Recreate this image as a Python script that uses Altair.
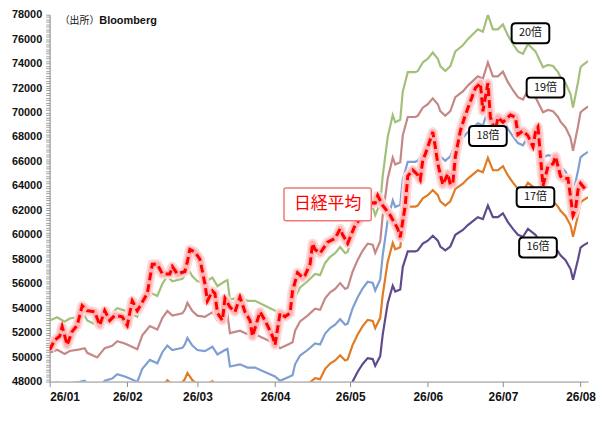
import altair as alt
import pandas as pd

# EPS (value / 20); the other bands are EPS x multiple
eps_dates = [
    "01-01", "01-04", "01-07", "01-09", "01-13", "01-15", "01-16", "01-20", "01-23", "01-26",
    "01-28", "01-31", "02-02", "02-05", "02-07", "02-10", "02-13", "02-15", "02-17", "02-19",
    "02-23", "02-24", "02-25", "02-27", "03-01", "03-04", "03-07", "03-09", "03-12", "03-13",
    "03-14", "03-18", "03-21", "03-24", "03-27", "03-30", "04-01", "04-03", "04-06", "04-08",
    "04-09", "04-11", "04-14", "04-17", "04-19", "04-21", "04-23", "04-25", "04-27", "04-29",
    "04-30", "05-02", "05-04", "05-06", "05-08", "05-10", "05-11", "05-13", "05-14", "05-16",
    "05-18", "05-19", "05-21", "05-22", "05-24", "05-27", "05-28", "05-30", "06-01", "06-03",
    "06-05", "06-06", "06-08", "06-10", "06-12", "06-15", "06-17", "06-20", "06-21", "06-23",
    "06-25", "06-27", "06-29", "07-01", "07-03", "07-05", "07-07", "07-09", "07-11", "07-13",
    "07-14", "07-17", "07-19", "07-21", "07-23", "07-24", "07-26", "07-28", "07-29", "07-31",
    "08-01", "08-02", "08-04",
]
eps_values = [
    2650, 2663, 2645, 2658, 2665, 2670, 2650, 2630, 2670, 2680,
    2700, 2690, 2680, 2665, 2725, 2765, 2750, 2800, 2830, 2810,
    2820, 2835, 2865, 2830, 2810, 2805, 2825, 2790, 2810, 2815,
    2735, 2745, 2730, 2730, 2715, 2700, 2690, 2670, 2685, 2695,
    2745, 2785, 2810, 2840, 2835, 2885, 2910, 2925, 2950, 2925,
    2930, 3000, 3050, 3090, 3120, 3115, 3080, 3130, 3240, 3400,
    3490, 3460, 3470, 3585, 3665, 3665, 3670, 3705, 3720, 3745,
    3720, 3690, 3670, 3690, 3750, 3775, 3800, 3830, 3840, 3830,
    3900, 3840, 3840, 3860, 3815, 3780, 3750, 3740, 3780, 3760,
    3750, 3685, 3695, 3690, 3665, 3645, 3620, 3575, 3520, 3625,
    3685, 3695, 3710,
]

nikkei_dates = [
    "01-01", "01-03", "01-05", "01-06", "01-08", "01-10", "01-12", "01-14", "01-16", "01-19",
    "01-21", "01-23", "01-25", "01-27", "01-30", "02-01", "02-03", "02-05", "02-09", "02-11",
    "02-13", "02-15", "02-18", "02-19", "02-21", "02-24", "02-25", "02-26", "02-28", "03-02",
    "03-04", "03-05", "03-07", "03-08", "03-09", "03-11", "03-12", "03-14", "03-16", "03-18",
    "03-20", "03-22", "03-23", "03-26", "03-28", "03-31", "04-01", "04-03", "04-05", "04-07",
    "04-08", "04-10", "04-12", "04-13", "04-15", "04-16", "04-17", "04-19", "04-22", "04-25",
    "04-27", "04-28", "04-30", "05-03", "05-05", "05-08", "05-11", "05-12", "05-14", "05-17",
    "05-20", "05-21", "05-23", "05-24", "05-26", "05-28", "05-29", "05-30", "05-31", "06-03",
    "06-04", "06-05", "06-07", "06-09", "06-10", "06-11", "06-12", "06-14", "06-16", "06-18",
    "06-20", "06-22", "06-23", "06-25", "06-26", "06-28", "06-29", "07-01", "07-03", "07-04",
    "07-06", "07-07", "07-09", "07-11", "07-13", "07-14", "07-15", "07-17", "07-19", "07-21",
    "07-22", "07-24", "07-25", "07-27", "07-29", "07-30", "07-31", "08-01", "08-03",
]
nikkei_values = [
    50600, 51400, 51700, 52500, 51000, 52100, 52600, 54200, 53800, 53700,
    52600, 53800, 53000, 53400, 53300, 52600, 54600, 53800, 55200, 57600,
    57600, 56800, 56800, 57400, 56800, 57000, 57800, 58800, 58600, 58000,
    56000, 54600, 55400, 55200, 53600, 53000, 54800, 54100, 53700, 54900,
    53700, 53000, 51700, 53700, 53000, 51700, 51000, 53600, 53300, 53600,
    55400, 56900, 56500, 56700, 57600, 59300, 58800, 58500, 59400, 59700,
    60500, 60000, 59300, 60800, 61300, 62600, 62600, 63200, 62400, 61600,
    60500, 59800, 62400, 64800, 65300, 64900, 64500, 66100, 66600, 68400,
    67200, 65800, 64100, 65000, 64100, 64200, 66400, 68500, 69800, 70900,
    72000, 72400, 70100, 72400, 69600, 68500, 69600, 69200, 69600, 69800,
    69600, 68200, 68500, 68100, 67200, 68400, 68800, 64000, 65600, 65800,
    66400, 64800, 64600, 64600, 61600, 62100, 63700, 64200, 63700,
]

multiples = [20, 19, 18, 17, 16]
band_labels = ["20倍", "19倍", "18倍", "17倍", "16倍"]
band_colors = ["#A2C07A", "#C48886", "#7F9ED4", "#E07B24", "#5F4A8B"]

y_ticks = list(range(48000, 78001, 200))

# where the boxed labels sit (date, level)
label_dates = ["07-12", "07-18", "06-25", "07-14", "07-15"]
label_levels = [76480, 72040, 68080, 63080, 58960]
nikkei_label = "日経平均"
nikkei_label_date = "04-22"
nikkei_label_level = 62480
source_date = "01-05"
source_level = 77500

FONT = "Noto Sans CJK JP"
AXIS_FONT = "Liberation Sans"

# rounded boxes drawn as custom symbols (unit square -1..1)
BOX_PATH = ("M -0.79 -0.526 L 0.79 -0.526 Q 1 -0.526 1 -0.316 L 1 0.316 "
            "Q 1 0.526 0.79 0.526 L -0.79 0.526 Q -1 0.526 -1 0.316 "
            "L -1 -0.316 Q -1 -0.526 -0.79 -0.526 Z")
WIDE_BOX_PATH = ("M -0.95 -0.375 L 0.95 -0.375 Q 1 -0.375 1 -0.33 L 1 0.33 "
                 "Q 1 0.375 0.95 0.375 L -0.95 0.375 Q -1 0.375 -1 0.33 "
                 "L -1 -0.33 Q -1 -0.375 -0.95 -0.375 Z")


def to_dates(days):
    return pd.to_datetime(["2026-" + d for d in days])


def build_chart():
    eps = pd.DataFrame({"date": to_dates(eps_dates), "eps": eps_values})
    bands = pd.concat(
        [eps.assign(band=lab, value=eps["eps"] * m) for m, lab in zip(multiples, band_labels)],
        ignore_index=True,
    )
    nikkei = pd.DataFrame({"date": to_dates(nikkei_dates), "value": nikkei_values})
    labels = pd.DataFrame({"date": to_dates(label_dates), "value": label_levels, "text": band_labels})
    nk_label = pd.DataFrame({"date": to_dates([nikkei_label_date]), "value": [nikkei_label_level],
                             "text": [nikkei_label]})
    source = pd.DataFrame({"date": to_dates([source_date]), "value": [source_level]})

    x_enc = alt.X(
        "date:T",
        scale=alt.Scale(domain=[alt.DateTime(year=2026, month=1, date=1),
                                alt.DateTime(year=2026, month=8, date=4)]),
        axis=alt.Axis(
            values=[alt.DateTime(year=2026, month=m, date=1) for m in range(1, 9)],
            format="%y/%m", title=None, grid=False, tickSize=5,
            domainColor="#8C8C8C", tickColor="#8C8C8C",
            labelFont=AXIS_FONT, labelFontSize=12, labelFontWeight="bold",
            labelColor="#111", labelPadding=5,
        ),
    )
    y_enc = alt.Y(
        "value:Q",
        scale=alt.Scale(domain=[48000, 78000], nice=False, zero=False),
        axis=alt.Axis(
            values=y_ticks, title=None, grid=False, tickSize=4,
            labelExpr="datum.value % 2000 == 0 ? '' + datum.value : ''",
            labelOverlap=False, domainColor="#8C8C8C", tickColor="#A0A0A0",
            labelFont=AXIS_FONT, labelFontSize=11, labelFontWeight="bold",
            labelColor="#111", labelPadding=4,
        ),
    )

    band_lines = alt.Chart(bands).mark_line(strokeWidth=2.2, clip=True).encode(
        x=x_enc, y=y_enc,
        color=alt.Color("band:N", scale=alt.Scale(domain=band_labels, range=band_colors), legend=None),
        detail="band:N",
    )

    # red dashed Nikkei line with a soft pink glow under it
    glow_outer = alt.Chart(nikkei).mark_line(
        strokeWidth=10, color="#FFDADA", strokeJoin="round", clip=True
    ).encode(x=x_enc, y=y_enc)
    glow_inner = alt.Chart(nikkei).mark_line(
        strokeWidth=6, color="#FFB3B3", strokeJoin="round", clip=True
    ).encode(x=x_enc, y=y_enc)
    nk_line = alt.Chart(nikkei).mark_line(
        strokeWidth=3, color="#FF0000", strokeDash=[8, 4], clip=True
    ).encode(x=x_enc, y=y_enc)

    boxes = alt.Chart(labels).mark_point(
        shape=BOX_PATH, size=1444, filled=True, fill="white", stroke="black",
        strokeWidth=2, opacity=1,
    ).encode(x=x_enc, y=y_enc)
    box_text = alt.Chart(labels).mark_text(
        font=FONT, fontSize=11, color="#111", align="center", baseline="middle"
    ).encode(x=x_enc, y=y_enc, text="text:N")

    nk_box = alt.Chart(nk_label).mark_point(
        shape=WIDE_BOX_PATH, size=7744, filled=True, fill="white", stroke="#F07878",
        strokeWidth=1.5, opacity=1,
    ).encode(x=x_enc, y=y_enc)
    nk_text = alt.Chart(nk_label).mark_text(
        font=FONT, fontSize=17, color="#FF0000", align="center", baseline="middle"
    ).encode(x=x_enc, y=y_enc, text="text:N")

    src_a = alt.Chart(source).mark_text(
        font=FONT, fontSize=10, color="#111", align="left", baseline="middle", text="（出所）"
    ).encode(x=x_enc, y=y_enc)
    src_b = alt.Chart(source).mark_text(
        font=AXIS_FONT, fontSize=11, fontWeight="bold", color="#111", align="left",
        baseline="middle", text="Bloomberg", dx=40,
    ).encode(x=x_enc, y=y_enc)

    chart = alt.layer(
        band_lines, glow_outer, glow_inner, nk_line,
        boxes, box_text, nk_box, nk_text, src_a, src_b,
    ).properties(
        width=543, height=370,
        autosize=alt.AutoSizeParams(type="none"),
        padding={"left": 42, "top": 5, "right": 8, "bottom": 33},
        background="white",
    ).configure_view(strokeWidth=0)
    return chart


if __name__ == "__main__":
    build_chart().save("out.html", embed_options={"renderer": "svg", "actions": False})
